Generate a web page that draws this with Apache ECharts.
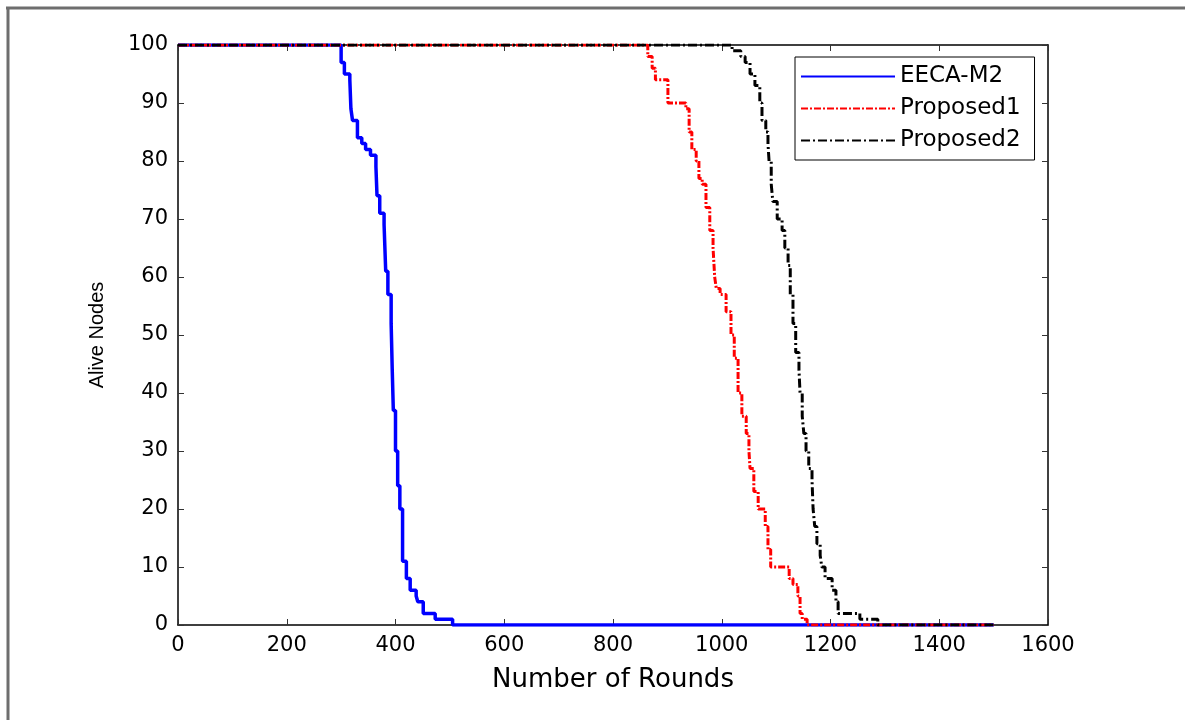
<!DOCTYPE html>
<html>
<head>
<meta charset="utf-8">
<script src="https://cdn.jsdelivr.net/npm/echarts@6/dist/echarts.min.js"></script>
<style>
  html, body { margin: 0; padding: 0; background: #fff; }
  #chart { width: 1185px; height: 720px; }
</style>
</head>
<body>
<div id="chart"></div>
<script>
// 数据：轮数 / 存活节点数
var xTicks = [0, 200, 400, 600, 800, 1000, 1200, 1400, 1600];
var yTicks = [0, 10, 20, 30, 40, 50, 60, 70, 80, 90, 100];

var blueRounds = [0, 300, 306, 316, 318, 321, 330, 338, 345, 354, 364, 366, 371, 379, 382, 386, 392, 394, 396, 400, 404, 408, 413, 420, 427, 438, 441, 451, 473, 505, 1500];
var blueAlive  = [100, 97, 95, 94, 89, 87, 84, 83, 82, 81, 79, 74, 71, 69, 61, 57, 52, 44, 37, 30, 24, 20, 11, 8, 6, 5, 4, 2, 1, 0, 0];

var redRounds = [0, 864, 872, 878, 901, 934, 940, 945, 953, 958, 964, 971, 978, 984, 987, 990, 997, 1008, 1017, 1023, 1030, 1037, 1045, 1050, 1052, 1059, 1067, 1080, 1085, 1090, 1124, 1131, 1140, 1144, 1148, 1157, 1500];
var redAlive  = [100, 98, 96, 94, 90, 89, 85, 82, 80, 77, 76, 72, 68, 65, 60, 58, 57, 54, 50, 46, 40, 36, 33, 30, 27, 23, 20, 17, 13, 10, 8, 7, 5, 2, 1, 0, 0];

var blackRounds = [0, 1019, 1035, 1043, 1052, 1061, 1070, 1074, 1081, 1085, 1087, 1091, 1094, 1102, 1111, 1116, 1122, 1126, 1131, 1136, 1142, 1144, 1148, 1151, 1155, 1160, 1166, 1168, 1171, 1175, 1181, 1184, 1190, 1203, 1210, 1214, 1254, 1287, 1500];
var blackAlive  = [100, 99, 98, 97, 95, 93, 90, 87, 85, 83, 80, 76, 73, 70, 68, 65, 62, 57, 52, 47, 44, 40, 36, 33, 30, 27, 25, 20, 17, 14, 12, 10, 8, 6, 4, 2, 1, 0, 0];

// 把两个数组拼成 [x, y] 点
function zip(xs, ys) {
  return xs.map(function (x, i) { return [x, ys[i]]; });
}

var font = 'DejaVu Sans, Liberation Sans, Arial, sans-serif';
var chart = echarts.init(document.getElementById('chart'));

var tickStyle = { show: true, inside: true, length: 6, lineStyle: { color: '#333', width: 1 } };

chart.setOption({
  animation: false,
  backgroundColor: '#fff',
  grid: { left: 178, top: 45, right: 137, bottom: 95, containLabel: false },
  graphic: [
    { type: 'line', shape: { x1: 6, y1: 8, x2: 1185, y2: 8 }, style: { stroke: '#6e6e6e', lineWidth: 3 } },
    { type: 'line', shape: { x1: 8, y1: 7, x2: 8, y2: 720 }, style: { stroke: '#6e6e6e', lineWidth: 3 } }
  ],
  legend: {
    orient: 'vertical',
    left: 795,
    top: 57,
    backgroundColor: '#fff',
    borderColor: '#000',
    borderWidth: 1,
    borderRadius: 0,
    padding: [8, 14, 8, 5],
    itemGap: 9,
    itemWidth: 94,
    itemHeight: 22,
    itemStyle: { opacity: 0 },
    textStyle: { fontFamily: font, fontSize: 23, color: '#000' },
    data: ['EECA-M2', 'Proposed1', 'Proposed2']
  },
  xAxis: [{
    type: 'value',
    min: 0, max: 1600, interval: 200,
    name: 'Number of Rounds',
    nameLocation: 'middle',
    nameGap: 42,
    nameTextStyle: { fontFamily: font, fontSize: 26, color: '#000' },
    axisLine: { show: true, onZero: false, lineStyle: { color: '#000', width: 1.5 } },
    axisTick: tickStyle,
    axisLabel: { fontFamily: font, fontSize: 21, color: '#000', margin: 10,
      formatter: function (v) { return xTicks.indexOf(v) >= 0 ? String(v) : ''; } },
    splitLine: { show: false }
  }, {
    type: 'value', position: 'top',
    min: 0, max: 1600, interval: 200,
    axisLine: { show: true, onZero: false, lineStyle: { color: '#000', width: 1.5 } },
    axisTick: tickStyle,
    axisLabel: { show: false },
    splitLine: { show: false }
  }],
  yAxis: [{
    type: 'value',
    min: 0, max: 100, interval: 10,
    name: 'Alive Nodes',
    nameLocation: 'middle',
    nameGap: 71,
    nameTextStyle: { fontFamily: 'Liberation Sans Narrow, Liberation Sans, Arial, sans-serif', fontSize: 20, color: '#000',
      padding: [0, 0, 0, 0] },
    axisLine: { show: true, onZero: false, lineStyle: { color: '#000', width: 1.5 } },
    axisTick: tickStyle,
    axisLabel: { fontFamily: font, fontSize: 21, color: '#000', margin: 10,
      formatter: function (v) { return yTicks.indexOf(v) >= 0 ? String(v) : ''; } },
    splitLine: { show: false }
  }, {
    type: 'value', position: 'right',
    min: 0, max: 100, interval: 10,
    axisLine: { show: true, onZero: false, lineStyle: { color: '#000', width: 1.5 } },
    axisTick: tickStyle,
    axisLabel: { show: false },
    splitLine: { show: false }
  }],
  series: [{
    name: 'EECA-M2',
    type: 'line',
    step: 'end',
    symbol: 'none',
    data: zip(blueRounds, blueAlive),
    lineStyle: { color: '#0000ff', width: 3.5 },
    itemStyle: { color: '#0000ff' }
  }, {
    name: 'Proposed1',
    type: 'line',
    step: 'end',
    symbol: 'none',
    data: zip(redRounds, redAlive),
    lineStyle: { color: '#ff0000', width: 3, type: [7, 2, 2, 2] },
    itemStyle: { color: '#ff0000' }
  }, {
    name: 'Proposed2',
    type: 'line',
    step: 'end',
    symbol: 'none',
    data: zip(blackRounds, blackAlive),
    lineStyle: { color: '#000000', width: 3, type: [9, 3, 2, 3] },
    itemStyle: { color: '#000000' }
  }]
});
</script>
</body>
</html>
